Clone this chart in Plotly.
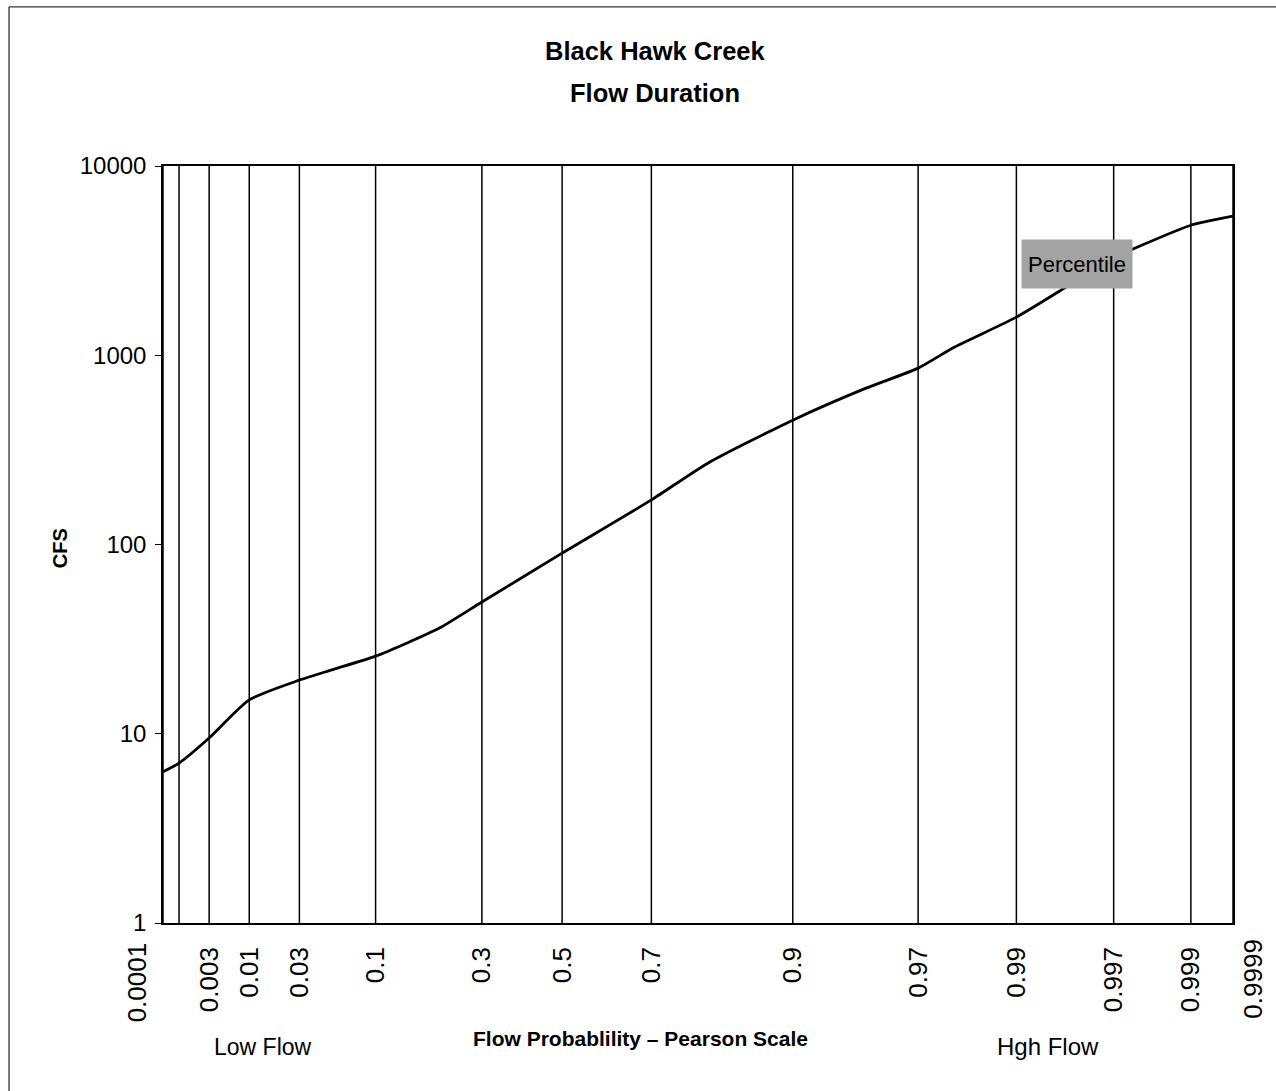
import numpy as np
import plotly.graph_objects as go

# Probability axis: tick probabilities and their positions on the Pearson-type scale
tick_prob = [0.0001, 0.001, 0.003, 0.01, 0.03, 0.1, 0.3, 0.5, 0.7, 0.9, 0.97, 0.99, 0.997, 0.999, 0.9999]
tick_pos = [-398, -382, -352, -312, -262, -186, -80, 0, 89, 230, 355, 453, 550, 627, 669]
tick_text = ["", "", "0.003", "0.01", "0.03", "0.1", "0.3", "0.5", "0.7", "0.9", "0.97", "0.99", "0.997", "0.999", ""]

# Flow duration curve (exceedance probability vs. discharge in CFS)
flow_prob = [0.0001, 0.001, 0.003, 0.01, 0.03, 0.05, 0.1, 0.2, 0.3, 0.5, 0.7, 0.8, 0.9,
             0.95, 0.97, 0.98, 0.99, 0.995, 0.997, 0.998, 0.999, 0.9999]
flow_cfs = [6.3, 7.0, 9.5, 15.1, 19.2, 21.7, 25.7, 36.2, 49.7, 90, 172, 269, 454,
            670, 855, 1105, 1590, 2405, 3260, 3820, 4865, 5430]


def logit(p):
    p = np.asarray(p, dtype=float)
    return np.log(p / (1 - p))


def pearson_pos(p):
    return np.interp(logit(p), logit(tick_prob), tick_pos)


FONT = "Liberation Sans, Arial, sans-serif"

fig = go.Figure()
fig.add_trace(go.Scatter(
    x=pearson_pos(flow_prob), y=flow_cfs, mode="lines",
    line=dict(color="black", width=2.8, shape="spline", smoothing=0.6),
    hoverinfo="skip", showlegend=False,
))

# vertical probability grid lines
for pos in tick_pos:
    fig.add_shape(type="line", xref="x", yref="paper", x0=pos, x1=pos, y0=0, y1=1,
                  line=dict(color="black", width=1.5), layer="below")

fig.update_xaxes(
    range=[tick_pos[0], tick_pos[-1]], tickvals=tick_pos, ticktext=tick_text,
    tickangle=-90, tickfont=dict(family=FONT, size=26, color="black"),
    showgrid=False, zeroline=False, showline=True, linecolor="black", linewidth=1.5,
    mirror=True, ticks="", ticklabelstandoff=12,
)
fig.update_yaxes(
    type="log", range=[0, 4], tickvals=[1, 10, 100, 1000, 10000],
    ticktext=["1", "10", "100", "1000", "10000"],
    tickfont=dict(family=FONT, size=24, color="black"),
    showgrid=False, zeroline=False, showline=True, linecolor="black", linewidth=1.5,
    mirror=True, ticks="outside", ticklen=6, tickcolor="black", ticklabelstandoff=4,
)

ann = [
    dict(text="<b>Black Hawk Creek</b>", x=0.46, y=1.152, size=25.5),
    dict(text="<b>Flow Duration</b>", x=0.46, y=1.096, size=25.5),
    dict(text="Low Flow", x=0.0935, y=-0.1638, size=23),
    dict(text="<b>Flow Probablility – Pearson Scale</b>", x=0.4467, y=-0.152, size=21),
    dict(text="Hgh Flow", x=0.827, y=-0.1638, size=24),
]
for a in ann:
    fig.add_annotation(text=a["text"], x=a["x"], y=a["y"], xref="paper", yref="paper",
                       showarrow=False, xanchor="center", yanchor="middle",
                       font=dict(family=FONT, size=a["size"], color="black"))

fig.add_annotation(text="<b>CFS</b>", x=-0.0963, y=0.495, xref="paper", yref="paper",
                   showarrow=False, textangle=-90, xanchor="center", yanchor="middle",
                   font=dict(family=FONT, size=20, color="black"))

# end labels of the probability scale
fig.add_annotation(text="0.0001", x=-0.024, y=-0.0225, xref="paper", yref="paper",
                   showarrow=False, textangle=-90, xanchor="center", yanchor="top",
                   font=dict(family=FONT, size=26, color="black"))
fig.add_annotation(text="0.9999", x=1.0187, y=-0.018, xref="paper", yref="paper",
                   showarrow=False, textangle=-90, xanchor="center", yanchor="top",
                   font=dict(family=FONT, size=26, color="black"))

# series label
fig.add_annotation(text="Percentile", x=0.854, y=0.8705, xref="paper", yref="paper",
                   showarrow=False, xanchor="center", yanchor="middle",
                   width=108, height=46, bgcolor="#a3a3a3",
                   font=dict(family=FONT, size=22, color="black"))

# page frame (left and top edges)
fig.add_shape(type="line", xref="paper", yref="paper", x0=-0.1439, x1=-0.1439, y0=-0.23, y1=1.2103,
              line=dict(color="#333333", width=1.3))
fig.add_shape(type="line", xref="paper", yref="paper", x0=-0.1439, x1=1.05, y0=1.2103, y1=1.2103,
              line=dict(color="#333333", width=1.3))

fig.update_layout(
    width=1276, height=1091,
    margin=dict(l=163, r=43, t=166, b=168),
    paper_bgcolor="white", plot_bgcolor="white",
    font=dict(family=FONT, color="black"),
)

fig.write_html("out.html")
